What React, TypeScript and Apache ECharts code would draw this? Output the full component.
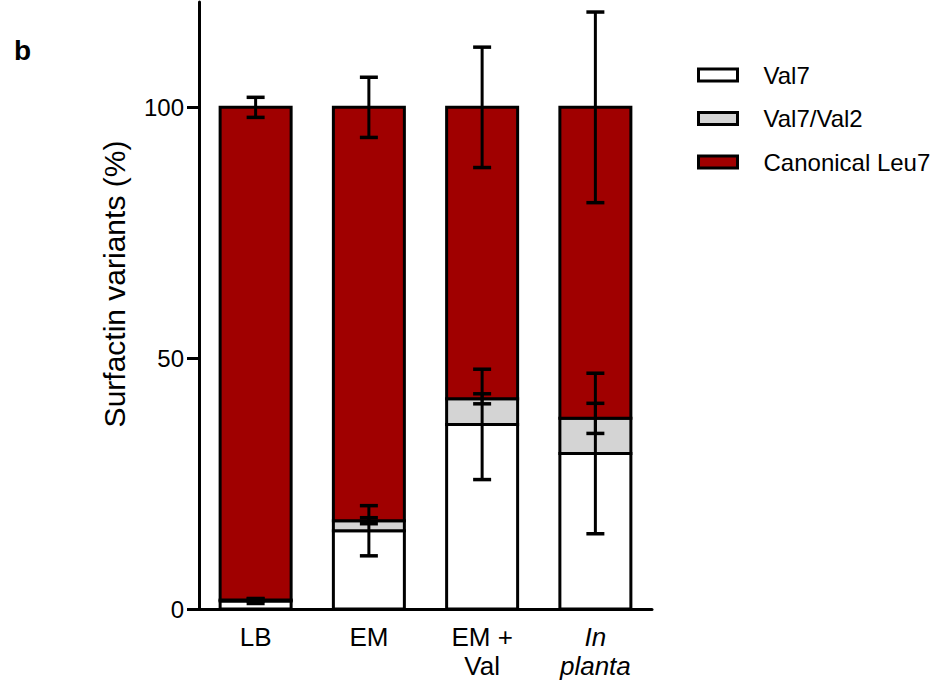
import { useEffect, useRef } from "react";
import * as echarts from "echarts";

// Surfactin variant composition per growth condition (%)
const categories = ["LB", "EM", "EM +\nVal", "In\nplanta"];
const seriesNames = ["Val7", "Val7/Val2", "Canonical Leu7"];
const val7 = [1.6, 15.6, 36.8, 31];
const val7Val2 = [0.2, 2.0, 5.1, 7];
const canonical = [98.2, 82.4, 58.1, 62];
// standard deviations, drawn at the top of each stacked segment
const val7Err = [0.5, 5, 11, 16];
const val7Val2Err = [0.2, 0.6, 1.0, 3];
const canonicalErr = [2, 6, 12, 19];
const yTicks = [0, 50, 100];

const colors = ["#ffffff", "#d4d4d4", "#a00000"];
const FONT = "'Liberation Sans', Arial, Helvetica, sans-serif";
const BAR_W = 71;
const LINE_W = 3;

export default function App() {
  const ref = useRef<HTMLDivElement>(null);

  useEffect(() => {
    if (!ref.current) return;
    const chart = echarts.init(ref.current, null, { renderer: "svg" });

    const segments = [val7, val7Val2, canonical];
    const errs = [val7Err, val7Val2Err, canonicalErr];

    // stacked segments: [category index, base, value]; outlines share one stroke
    const segmentData: number[][][] = segments.map(() => []);
    const errorData: number[][] = [];
    categories.forEach((_, i) => {
      let cum = 0;
      segments.forEach((seg, s) => {
        segmentData[s].push([i, cum, seg[i]]);
        cum += seg[i];
        errorData.push([i, cum, errs[s][i]]);
      });
    });

    const barSeries = segments.map((_, s) => ({
      name: seriesNames[s],
      type: "custom",
      data: segmentData[s],
      encode: { x: 0, y: [1, 2] },
      itemStyle: { color: colors[s], borderColor: "#000", borderWidth: LINE_W },
      z: 2 + s,
      renderItem: (_params: any, api: any) => {
        const i = api.value(0);
        const base = api.value(1);
        const v = api.value(2);
        const p0 = api.coord([i, base]);
        const p1 = api.coord([i, base + v]);
        return {
          type: "rect",
          shape: { x: p0[0] - BAR_W / 2, y: p1[1], width: BAR_W, height: p0[1] - p1[1] },
          style: { fill: colors[s], stroke: "#000", lineWidth: LINE_W },
        };
      },
    }));

    chart.setOption({
      animation: false,
      backgroundColor: "#ffffff",
      textStyle: { fontFamily: FONT },
      grid: { left: 199, right: 293, top: 2, bottom: 81, containLabel: false },
      legend: {
        data: seriesNames,
        orient: "vertical",
        left: 697,
        top: 63,
        padding: 0,
        itemWidth: 39,
        itemHeight: 12,
        itemGap: 19.5,
        icon: "rect",
        itemStyle: { borderColor: "#000", borderWidth: LINE_W },
        textStyle: {
          fontFamily: FONT,
          fontSize: 24,
          lineHeight: 24,
          color: "#000",
          padding: [0, 0, 0, 21],
        },
        selectedMode: false,
      },
      xAxis: {
        type: "category",
        data: categories,
        axisLine: { lineStyle: { color: "#000", width: LINE_W } },
        axisTick: { alignWithLabel: true, length: 10, lineStyle: { color: "#000", width: LINE_W } },
        axisLabel: {
          interval: 0,
          hideOverlap: false,
          color: "#000",
          fontSize: 26,
          lineHeight: 29,
          margin: 13,
          fontFamily: FONT,
          formatter: (v: string) =>
            v.startsWith("In\n") ? v.split("\n").map((t) => `{i|${t}}`).join("\n") : v,
          rich: { i: { fontStyle: "italic", fontSize: 26, lineHeight: 29, color: "#000", fontFamily: FONT } },
        },
      },
      yAxis: {
        type: "value",
        min: 0,
        max: 121,
        interval: 50,
        splitLine: { show: false },
        axisLine: { show: true, lineStyle: { color: "#000", width: LINE_W } },
        axisTick: { show: true, length: 12, customValues: yTicks, lineStyle: { color: "#000", width: LINE_W } },
        axisLabel: { color: "#000", fontSize: 24, margin: 15, customValues: yTicks, fontFamily: FONT },
      },
      series: [
        ...barSeries,
        {
          type: "custom",
          name: "error",
          data: errorData,
          encode: { x: 0, y: 1 },
          z: 10,
          clip: false,
          renderItem: (_params: any, api: any) => {
            const i = api.value(0);
            const c = api.value(1);
            const e = api.value(2);
            const top = api.coord([i, c + e]);
            const bot = api.coord([i, c - e]);
            const x = top[0];
            const hw = 9;
            const style = { stroke: "#000", lineWidth: LINE_W };
            const cap = { stroke: "#000", lineWidth: 3.5 };
            return {
              type: "group",
              children: [
                { type: "line", shape: { x1: x, y1: top[1], x2: x, y2: bot[1] }, style },
                { type: "line", shape: { x1: x - hw, y1: top[1], x2: x + hw, y2: top[1] }, style: cap },
                { type: "line", shape: { x1: x - hw, y1: bot[1], x2: x + hw, y2: bot[1] }, style: cap },
              ],
            };
          },
        },
      ],
      graphic: [
        {
          type: "text",
          left: 14,
          top: 36,
          style: { text: "b", fontSize: 28, fontWeight: "bold", fill: "#000", fontFamily: FONT },
        },
        {
          type: "text",
          x: 114,
          y: 284,
          rotation: Math.PI / 2,
          style: {
            text: "Surfactin variants (%)",
            fontSize: 30,
            fill: "#000",
            fontFamily: FONT,
            align: "center",
            verticalAlign: "middle",
          },
        },
      ],
    });

    return () => chart.dispose();
  }, []);

  return (
    <div
      ref={ref}
      style={{ position: "absolute", left: 0, top: 0, width: 945, height: 690 }}
    />
  );
}
